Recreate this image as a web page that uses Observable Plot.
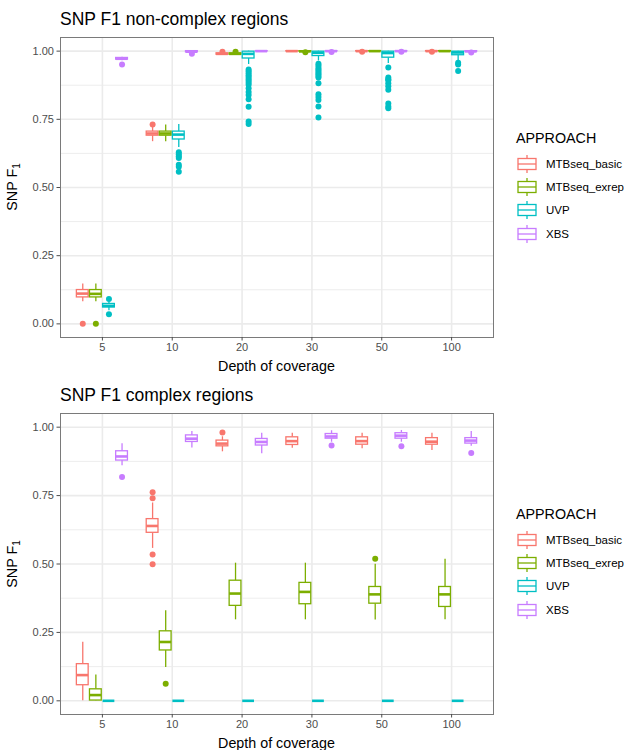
<!DOCTYPE html>
<html><head><meta charset="utf-8">
<script src="https://cdn.jsdelivr.net/npm/d3@7"></script>
<script src="https://cdn.jsdelivr.net/npm/@observablehq/plot@0.6"></script>
<style>
body{margin:0;background:#fff;font-family:"Liberation Sans",Arial,sans-serif;}
#root{position:relative;width:624px;height:750px;overflow:hidden;}
.abs{position:absolute;white-space:nowrap;line-height:1;}
.title{font-size:17.5px;color:#000;}
.xlab{font-size:14.3px;color:#000;text-align:center;width:200px;}
.ylab{font-size:14.3px;color:#000;text-align:center;width:100px;height:16px;transform:rotate(-90deg);transform-origin:50% 50%;}
.ylab sub{font-size:10px;vertical-align:-3px;line-height:0;}
.ltitle{font-size:14.3px;color:#000;}
.llab{font-size:11.5px;color:#000;line-height:22px;height:22px;}
</style></head><body><div id="root"></div>
<script>
// ---- categories ----
const depths = ["5", "10", "20", "30", "50", "100"];
const approaches = ["MTBseq_basic", "MTBseq_exrep", "UVP", "XBS"];
const colors = ["#F8766D", "#7CAE00", "#00BFC4", "#C77CFF"];
const yTicks = [0, 0.25, 0.5, 0.75, 1];
const yMinor = [0.125, 0.375, 0.625, 0.875];

// ---- SNP F1 non-complex regions: rows = depth, columns = approach ----
const ncLow = [
  [0.081, 0.081, 0.048, 0.965],
  [0.668, 0.668, 0.647, 0.994],
  [0.984, 0.984, 0.951, 0.997],
  [0.998, 0.997, 0.964, 0.998],
  [0.999, 0.999, 0.955, 0.998],
  [0.999, 0.999, 0.966, 0.997]];
const ncQ1 = [
  [0.097, 0.097, 0.060, 0.969],
  [0.690, 0.690, 0.676, 0.996],
  [0.987, 0.987, 0.973, 0.999],
  [0.999, 0.998, 0.982, 0.999],
  [0.999, 0.999, 0.976, 0.999],
  [0.999, 0.999, 0.985, 0.998]];
const ncMed = [
  [0.111, 0.110, 0.066, 0.972],
  [0.698, 0.698, 0.694, 0.998],
  [0.990, 0.990, 0.990, 1.000],
  [1.000, 0.999, 0.994, 1.000],
  [1.000, 1.000, 0.993, 1.000],
  [1.000, 1.000, 0.995, 0.999]];
const ncQ3 = [
  [0.124, 0.124, 0.073, 0.975],
  [0.705, 0.705, 0.705, 1.000],
  [0.992, 0.992, 0.998, 1.000],
  [1.000, 1.000, 0.998, 1.000],
  [1.000, 1.000, 0.998, 1.000],
  [1.000, 1.000, 0.998, 1.000]];
const ncHigh = [
  [0.146, 0.146, 0.080, 0.978],
  [0.720, 0.729, 0.731, 1.000],
  [0.995, 0.995, 1.000, 1.000],
  [1.000, 1.000, 1.000, 1.000],
  [1.000, 1.000, 1.000, 1.000],
  [1.000, 1.000, 1.000, 1.000]];
const ncOutliers = [
  [[0], [0], [0.091, 0.035], [0.951]],
  [[0.731], [], [0.629, 0.622, 0.615, 0.608, 0.583, 0.576, 0.558], [0.990]],
  [[0.998], [0.998], [0.933, 0.926, 0.919, 0.912, 0.905, 0.898, 0.891, 0.884, 0.877, 0.864, 0.850, 0.839, 0.824, 0.796, 0.742, 0.733], []],
  [[], [0.996], [0.954, 0.947, 0.939, 0.933, 0.927, 0.921, 0.915, 0.909, 0.903, 0.882, 0.842, 0.832, 0.821, 0.797, 0.757], [0.997]],
  [[0.998], [], [0.940, 0.903, 0.897, 0.893, 0.882, 0.871, 0.858, 0.808, 0.797, 0.791], [0.998]],
  [[0.998], [], [0.957, 0.951, 0.927], [0.995]]];

// ---- SNP F1 complex regions ----
const cLow = [
  [0.000, 0.000, 0, 0.859],
  [0.557, 0.122, 0, 0.924],
  [0.910, 0.296, 0, 0.903],
  [0.923, 0.296, 0, 0.945],
  [0.921, 0.295, 0, 0.945],
  [0.915, 0.296, 0, 0.930]];
const cQ1 = [
  [0.057, 0.001, 0, 0.878],
  [0.614, 0.184, 0, 0.946],
  [0.930, 0.347, 0, 0.933],
  [0.935, 0.353, 0, 0.958],
  [0.936, 0.355, 0, 0.958],
  [0.936, 0.343, 0, 0.940]];
const cMed = [
  [0.094, 0.021, 0, 0.893],
  [0.639, 0.215, 0, 0.958],
  [0.940, 0.392, 0, 0.946],
  [0.949, 0.398, 0, 0.966],
  [0.949, 0.389, 0, 0.969],
  [0.947, 0.389, 0, 0.951]];
const cQ3 = [
  [0.134, 0.042, 0, 0.912],
  [0.664, 0.254, 0, 0.970],
  [0.951, 0.439, 0, 0.957],
  [0.963, 0.431, 0, 0.975],
  [0.963, 0.416, 0, 0.978],
  [0.960, 0.416, 0, 0.960]];
const cHigh = [
  [0.214, 0.094, 0, 0.939],
  [0.723, 0.329, 0, 0.984],
  [0.965, 0.503, 0, 0.978],
  [0.978, 0.503, 0, 0.987],
  [0.978, 0.499, 0, 0.988],
  [0.978, 0.517, 0, 0.984]];
const cOutliers = [
  [[], [], [], [0.818]],
  [[0.762, 0.740, 0.535, 0.499], [0.062], [], []],
  [[0.981], [], [], []],
  [[], [], [], [0.933]],
  [[], [0.519], [], [0.930]],
  [[], [], [], [0.906]]];

// ---- drawing ----
const root = document.getElementById("root");
const slot = 0.75 / approaches.length;          // dodge width per approach
const half = 0.9 * slot / 2;                      // half box width
const cx = d => d.i + (d.j - (approaches.length - 1) / 2) * slot;

function boxRows(low, q1, med, q3, high) {
  const rows = [];
  depths.forEach((dep, i) => approaches.forEach((a, j) => rows.push({
    i, j, approach: a, low: low[i][j], q1: q1[i][j], med: med[i][j], q3: q3[i][j], high: high[i][j]
  })));
  return rows;
}
function outRows(out) {
  const rows = [];
  out.forEach((byA, i) => byA.forEach((vals, j) => vals.forEach(v => rows.push({i, j, approach: approaches[j], value: v}))));
  return rows;
}

function addDiv(cls, left, top, html) {
  const el = document.createElement("div");
  el.className = "abs " + cls;
  el.style.left = left + "px";
  el.style.top = top + "px";
  el.innerHTML = html;
  root.appendChild(el);
  return el;
}

function panel(title, plotTop, H, low, q1, med, q3, high, outliers) {
  const rows = boxRows(low, q1, med, q3, high);
  const outs = outRows(outliers);
  const mt = 7, mb = 30;
  const svg = Plot.plot({
    width: 500, height: mt + H + mb,
    marginTop: mt, marginBottom: mb, marginLeft: 60, marginRight: 7,
    style: {fontFamily: "Liberation Sans, Arial, sans-serif", fontSize: "11px", background: "transparent"},
    x: {domain: [-0.6, depths.length - 0.4], axis: null},
    y: {domain: [-0.05, 1.05], axis: null},
    color: {domain: approaches, range: colors},
    marks: [
      Plot.ruleY(yMinor, {stroke: "#EBEBEB", strokeWidth: 0.9}),
      Plot.ruleY(yTicks, {stroke: "#EBEBEB", strokeWidth: 1.6}),
      Plot.ruleX(d3.range(depths.length), {stroke: "#EBEBEB", strokeWidth: 1.6}),
      Plot.dot(outs, {x: cx, y: "value", r: 3, fill: "approach", stroke: null}),
      Plot.ruleX(rows, {x: cx, y1: "low", y2: "q1", stroke: "approach", strokeWidth: 1.3}),
      Plot.ruleX(rows, {x: cx, y1: "q3", y2: "high", stroke: "approach", strokeWidth: 1.3}),
      Plot.rect(rows, {x1: d => cx(d) - half, x2: d => cx(d) + half, y1: "q1", y2: "q3", fill: "white", stroke: "approach", strokeWidth: 1.3}),
      Plot.ruleY(rows, {x1: d => cx(d) - half, x2: d => cx(d) + half, y: "med", stroke: "approach", strokeWidth: 2.6}),
      Plot.frame({stroke: "#7a7a7a", strokeWidth: 1}),
      Plot.axisY(yTicks, {tickFormat: d3.format(".2f"), tickSize: 3.5, tickPadding: 3, color: "#4D4D4D", fontSize: 11, label: null}),
      Plot.axisX(d3.range(depths.length), {tickFormat: i => depths[i], tickSize: 3.5, tickPadding: 2, color: "#4D4D4D", fontSize: 11, label: null})
    ]
  });
  svg.style.position = "absolute";
  svg.style.left = "0px";
  svg.style.top = (plotTop - mt) + "px";
  root.appendChild(svg);

  addDiv("title", 60, plotTop - 26, title);
  addDiv("xlab", 176.5, plotTop + H + 21.6, "Depth of coverage");
  addDiv("ylab", 13 - 50, plotTop + H / 2 - 8, "SNP F<sub>1</sub>");

  // legend
  addDiv("ltitle", 516, plotTop + 94.2, "APPROACH");
  approaches.forEach((a, k) => {
    const cy = plotTop + 126.8 + 23.3 * k;
    const g = d3.create("svg").attr("width", 22).attr("height", 22)
      .style("position", "absolute").style("left", "516px").style("top", (cy - 11) + "px");
    g.append("line").attr("x1", 11).attr("x2", 11).attr("y1", 2).attr("y2", 20)
      .attr("stroke", colors[k]).attr("stroke-width", 1.3);
    g.append("rect").attr("x", 2).attr("y", 5.5).attr("width", 18).attr("height", 11)
      .attr("fill", "white").attr("stroke", colors[k]).attr("stroke-width", 1.3);
    g.append("line").attr("x1", 2).attr("x2", 20).attr("y1", 11).attr("y2", 11)
      .attr("stroke", colors[k]).attr("stroke-width", 1.3);
    root.appendChild(g.node());
    addDiv("llab", 546, cy - 11, a);
  });
}

panel("SNP F1 non-complex regions", 37, 300, ncLow, ncQ1, ncMed, ncQ3, ncHigh, ncOutliers);
panel("SNP F1 complex regions", 413, 301, cLow, cQ1, cMed, cQ3, cHigh, cOutliers);
</script>
</body></html>
